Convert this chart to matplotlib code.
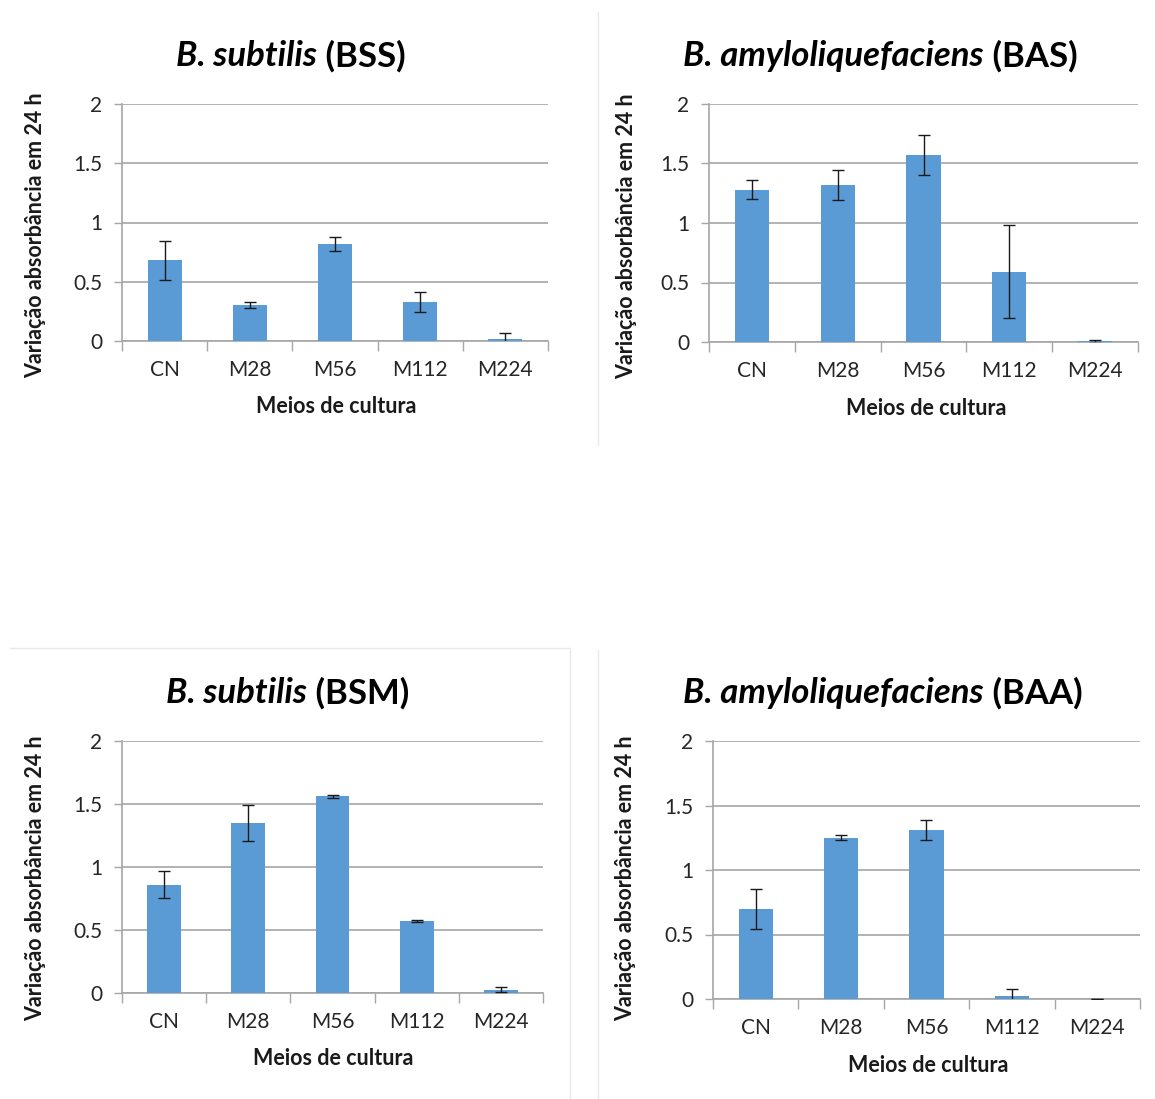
import matplotlib
matplotlib.use("Agg")
import matplotlib.pyplot as plt
from matplotlib.lines import Line2D
import numpy as np

plt.rcParams['font.family'] = ['Lato', 'DejaVu Sans']

categories = ['CN', 'M28', 'M56', 'M112', 'M224']

# mean change in absorbance and error
bss = [0.68, 0.30, 0.82, 0.33, 0.02]
bss_err = [0.165, 0.025, 0.06, 0.085, 0.045]
bas = [1.28, 1.32, 1.57, 0.59, 0.005]
bas_err = [0.08, 0.125, 0.17, 0.39, 0.015]
bsm = [0.86, 1.35, 1.56, 0.57, 0.025]
bsm_err = [0.105, 0.145, 0.01, 0.01, 0.02]
baa = [0.70, 1.25, 1.31, 0.02, 0.0]
baa_err = [0.155, 0.02, 0.075, 0.055, 0.0]

W, H = 1155, 1099
fig = plt.figure(figsize=(W / 100, H / 100), dpi=100)

BLUE = '#5B9BD5'
GRID = '#A6A6A6'

# name, italic part, values, errors, axes box [left, right, top, bottom] in px,
# title centre, ylabel x / centre, xlabel centre
panels = [
    ('(BSS)', 'B. subtilis', bss, bss_err, (122, 548, 104, 341), (291, 56), (46, 235), (336, 396)),
    ('(BAS)', 'B. amyloliquefaciens', bas, bas_err, (709, 1138, 104, 342), (880, 56), (637, 236), (926, 398)),
    ('(BSM)', 'B. subtilis', bsm, bsm_err, (122, 543, 741, 993), (288, 693), (46, 878), (333, 1048)),
    ('(BAA)', 'B. amyloliquefaciens', baa, baa_err, (713, 1140, 741, 999), (883, 693), (636, 878), (928, 1055)),
]

x = np.arange(len(categories))
titles = []
for tag, species, vals, errs, box, tpos, ylpos, xlpos in panels:
    l, r, t, b = box
    ax = fig.add_axes([l / W, 1 - b / H, (r - l) / W, (b - t) / H])
    ax.bar(x, vals, width=0.4, color=BLUE, zorder=3)
    ax.errorbar(x, vals, yerr=errs, fmt='none', ecolor='#1a1a1a', elinewidth=1,
                capsize=4, capthick=1, zorder=4)
    ax.set_xlim(-0.5, len(categories) - 0.5)
    ax.set_ylim(0, 2)
    ax.set_yticks([0, 0.5, 1, 1.5, 2])
    ax.set_yticklabels(['0', '0.5', '1', '1.5', '2'])
    ax.grid(axis='y', color=GRID, linewidth=1.2, zorder=0)
    ax.set_xticks(x)
    ax.set_xticklabels(categories)
    ax.tick_params(axis='x', length=0, pad=14, labelsize=15, labelcolor='#262626')
    ax.tick_params(axis='y', length=6, width=1, color=GRID, pad=8,
                   labelsize=15, labelcolor='#262626')
    ax.set_xticks(np.arange(len(categories) + 1) - 0.5, minor=True)
    ax.tick_params(axis='x', which='minor', length=7, width=1, color=GRID)
    for s in ['top', 'right']:
        ax.spines[s].set_visible(False)
    for s in ['left', 'bottom']:
        ax.spines[s].set_color(GRID)
        ax.spines[s].set_linewidth(1.2)

    ax.set_ylabel('Variação absorbância em 24 h', fontsize=15.5, fontweight='bold', color='#1a1a1a')
    ax.yaxis.set_label_coords(ylpos[0] / W, 1 - ylpos[1] / H, transform=fig.transFigure)
    ax.set_xlabel('Meios de cultura', fontsize=15.5, fontweight='bold', color='#1a1a1a')
    ax.xaxis.set_label_coords(xlpos[0] / W, 1 - xlpos[1] / H, transform=fig.transFigure)

    t1 = fig.text(tpos[0] / W, 1 - tpos[1] / H, species, fontsize=25, fontweight='bold',
                  style='italic', ha='left', va='center')
    t2 = fig.text(tpos[0] / W, 1 - tpos[1] / H, ' ' + tag, fontsize=25, fontweight='bold',
                  ha='left', va='center')
    titles.append((t1, t2, tpos[0]))

# centre the two-part titles
fig.canvas.draw()
r = fig.canvas.get_renderer()
for t1, t2, cx in titles:
    w1 = t1.get_window_extent(r).width
    w2 = t2.get_window_extent(r).width
    start = cx - (w1 + w2) / 2
    y = t1.get_position()[1]
    t1.set_position((start / W, y))
    t2.set_position(((start + w1) / W, y))

# faint frame lines between the original charts
sep = '#e8e8e8'
fig.add_artist(Line2D([598 / W, 598 / W], [1 - 12 / H, 1 - 445 / H], color=sep, lw=1))
fig.add_artist(Line2D([10 / W, 570 / W], [1 - 648 / H, 1 - 648 / H], color=sep, lw=1))
fig.add_artist(Line2D([570 / W, 570 / W], [1 - 650 / H, 0], color=sep, lw=1))
fig.add_artist(Line2D([598 / W, 598 / W], [1 - 650 / H, 0], color=sep, lw=1))

fig.savefig('out.png', dpi=100)
